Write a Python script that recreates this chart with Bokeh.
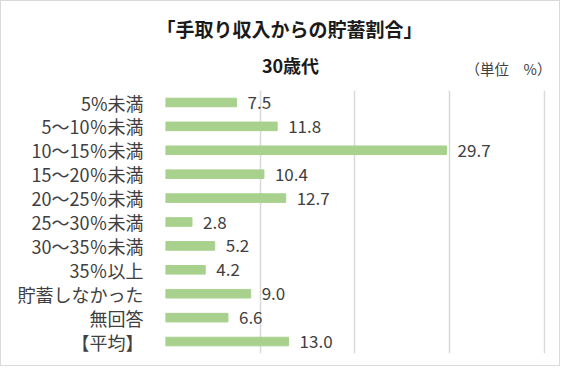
from bokeh.plotting import figure
from bokeh.models import ColumnDataSource, LabelSet, FixedTicker, Range1d, FactorRange
from bokeh.layouts import column
from bokeh.core.properties import value
from bokeh.embed import file_html
from bokeh.resources import INLINE

categories = ["5%未満", "5～10％未満", "10～15％未満", "15～20％未満", "20～25％未満",
              "25～30％未満", "30～35％未満", "35％以上", "貯蓄しなかった", "無回答", "【平均】"]
values = [7.5, 11.8, 29.7, 10.4, 12.7, 2.8, 5.2, 4.2, 9.0, 6.6, 13.0]
value_labels = ["7.5", "11.8", "29.7", "10.4", "12.7", "2.8", "5.2", "4.2", "9.0", "6.6", "13.0"]
grid_ticks = [0, 10, 20, 30, 40]
title_text = "「手取り収入からの貯蓄割合」"
subtitle_text = "30歳代"
unit_text = "（単位　%）"

FONT = "Noto Sans CJK JP"
W = 558
HH = 88

# ---- header with titles (coordinates = pixels) ----
h = figure(width=W, height=HH, output_backend="svg", toolbar_location=None,
           x_range=Range1d(1, W + 1), y_range=Range1d(HH + 1, 1),
           min_border=0, min_border_left=0, min_border_right=0, min_border_top=0, min_border_bottom=0)
h.frame_align = False
h.axis.visible = False
h.grid.visible = False
h.outline_line_color = None
h.text(x=[289], y=[28], text=[title_text], text_font=value(FONT), text_font_size="19px",
       text_font_style="bold", text_color="#1a1a1a", text_align="center", text_baseline="middle")
h.text(x=[290], y=[64], text=[subtitle_text], text_font=value(FONT), text_font_size="18px",
       text_font_style="bold", text_color="#1a1a1a", text_align="center", text_baseline="middle")
h.text(x=[508], y=[68], text=[unit_text], text_font=value(FONT), text_font_size="14.5px",
       text_color="#404040", text_align="center", text_baseline="middle")

# ---- bar chart ----
src = ColumnDataSource(dict(cat=categories, val=values, lab=value_labels))

p = figure(width=W, height=276, output_backend="svg", toolbar_location=None,
           y_range=FactorRange(*list(reversed(categories))), x_range=Range1d(0, 40.15),
           min_border_left=164, min_border_right=14, min_border_top=1, min_border_bottom=12)
p.frame_align = False
p.hbar(y="cat", right="val", height=0.36, source=src, color="#A9D18E")

p.add_layout(LabelSet(x="val", y="cat", text="lab", source=src, x_offset=11,
                      text_font=value(FONT), text_font_size="17px", text_color="#404040",
                      text_baseline="middle"))

p.xaxis.visible = False
p.yaxis.axis_line_color = None
p.yaxis.major_tick_line_color = None
p.yaxis.minor_tick_line_color = None
p.yaxis.major_label_text_font = FONT
p.yaxis.major_label_text_font_size = "18px"
p.yaxis.major_label_text_color = "#404040"
p.yaxis.major_label_standoff = 16
p.ygrid.grid_line_color = None
p.xgrid.ticker = FixedTicker(ticks=grid_ticks)
p.xgrid.grid_line_color = "#D9D9D9"
p.xgrid.grid_line_width = 1.5
p.outline_line_color = None

layout = column(h, p, spacing=0)
layout.styles = {"border": "1px solid #D9D9D9", "background-color": "white"}

open("out.html", "w").write(file_html(layout, INLINE))
